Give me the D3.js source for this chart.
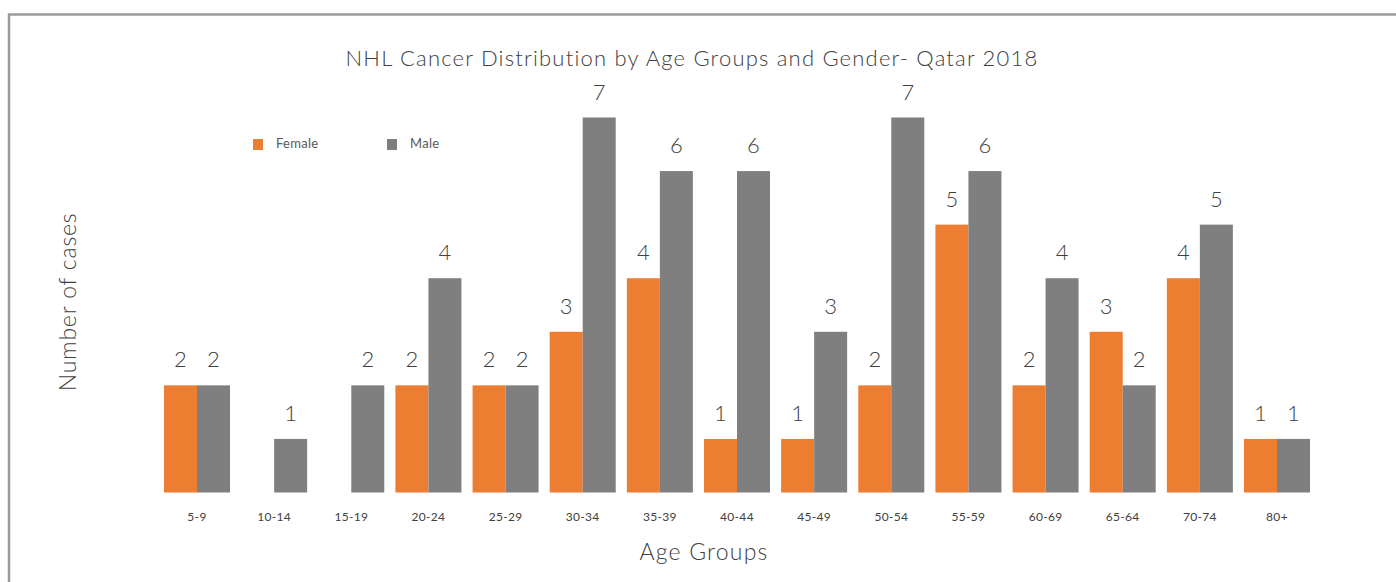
<!DOCTYPE html>
<html>
<head>
<meta charset="utf-8">
<script src="https://cdn.jsdelivr.net/npm/d3@7"></script>
<style>
  html, body { margin: 0; padding: 0; background: #fff; }
  svg { display: block; font-family: Lato, "Open Sans", "DejaVu Sans", sans-serif; }
</style>
</head>
<body>
<svg id="chart" width="1396" height="582"></svg>
<script>
// Age groups and case counts per gender (0 = no cases, no bar drawn)
const ageGroups = ["5-9", "10-14", "15-19", "20-24", "25-29", "30-34", "35-39", "40-44",
                   "45-49", "50-54", "55-59", "60-69", "65-64", "70-74", "80+"];
const femaleCases = [2, 0, 0, 2, 2, 3, 4, 1, 1, 2, 5, 2, 3, 4, 1];
const maleCases   = [2, 1, 2, 4, 2, 7, 6, 6, 3, 7, 6, 4, 2, 5, 1];
const genders = ["Female", "Male"];
const genderColors = ["#ED7D31", "#7F7F7F"];

const svg = d3.select("#chart");

// panel frame
svg.append("rect")
  .attr("x", 9).attr("y", 14.5)
  .attr("width", 1500).attr("height", 700)
  .attr("fill", "none").attr("stroke", "#9a9a9a").attr("stroke-width", 2.5);

const rows = ageGroups.map((g, i) => ({ group: g, values: [femaleCases[i], maleCases[i]] }));

const step = 77.14;
const x0 = d3.scaleBand()
  .domain(ageGroups)
  .range([197 - step / 2, 1277 + step / 2])
  .paddingInner(0.1444)
  .paddingOuter(0.0722);

const x1 = d3.scaleBand()
  .domain(genders)
  .range([0, x0.bandwidth()])
  .padding(0);

const y = d3.scaleLinear().domain([0, 7]).range([492.5, 117.5]);

const color = d3.scaleOrdinal().domain(genders).range(genderColors);

// bars
const groups = svg.append("g").selectAll("g")
  .data(rows)
  .join("g")
  .attr("transform", d => `translate(${x0(d.group)},0)`);

const cells = groups.selectAll("g")
  .data(d => d.values.map((v, k) => ({ gender: genders[k], value: v })).filter(c => c.value > 0))
  .join("g");

cells.append("rect")
  .attr("x", d => x1(d.gender))
  .attr("y", d => y(d.value))
  .attr("width", x1.bandwidth())
  .attr("height", d => y(0) - y(d.value))
  .attr("fill", d => color(d.gender));

// value labels
cells.append("text")
  .attr("x", d => x1(d.gender) + x1.bandwidth() / 2)
  .attr("y", d => y(d.value) - 18)
  .attr("text-anchor", "middle")
  .attr("font-size", 22)
  .attr("font-weight", 300)
  .attr("fill", "#404040")
  .text(d => d.value);

// category axis (labels only)
const xAxis = d3.axisBottom(x0).tickSize(0).tickPadding(0);
const axisG = svg.append("g")
  .attr("transform", "translate(0,512)")
  .call(xAxis);
axisG.select(".domain").remove();
axisG.selectAll("text")
  .attr("dy", "0.71em")
  .attr("font-size", 12)
  .attr("letter-spacing", 0.3)
  .attr("font-family", "Lato, 'Open Sans', sans-serif")
  .attr("fill", "#404040");

// title
svg.append("text")
  .attr("x", 692).attr("y", 66)
  .attr("text-anchor", "middle")
  .attr("font-size", 22)
  .attr("font-weight", 300)
  .attr("letter-spacing", 1.2)
  .attr("fill", "#404040")
  .text("NHL Cancer Distribution by Age Groups and Gender- Qatar 2018");

// axis titles
svg.append("text")
  .attr("x", 704).attr("y", 560)
  .attr("text-anchor", "middle")
  .attr("font-size", 23)
  .attr("font-weight", 300)
  .attr("letter-spacing", 1.2)
  .attr("fill", "#404040")
  .text("Age Groups");

svg.append("text")
  .attr("transform", "translate(76,302) rotate(-90)")
  .attr("text-anchor", "middle")
  .attr("font-size", 23)
  .attr("font-weight", 300)
  .attr("letter-spacing", 0.8)
  .attr("fill", "#404040")
  .text("Number of cases");

// legend
const legendX = [253, 387];
const legend = svg.append("g").selectAll("g")
  .data(genders)
  .join("g")
  .attr("transform", (d, i) => `translate(${legendX[i]},139)`);
legend.append("rect")
  .attr("width", 10).attr("height", 11)
  .attr("fill", d => color(d));
legend.append("text")
  .attr("x", 23).attr("y", 9)
  .attr("font-size", 13)
  .attr("letter-spacing", 0.3)
  .attr("fill", "#595959")
  .text(d => d);
</script>
</body>
</html>
